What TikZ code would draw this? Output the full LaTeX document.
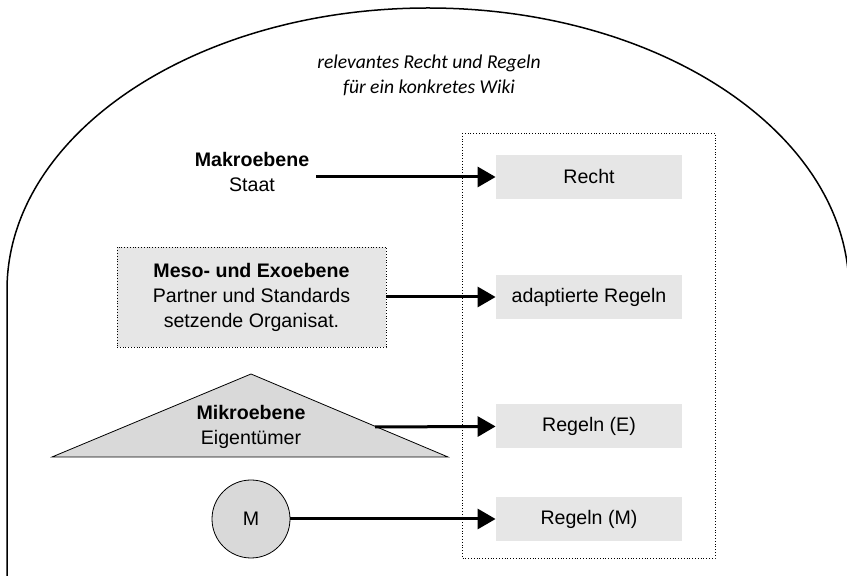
\documentclass[tikz,border=0pt]{standalone}
\usepackage{fontspec}
\setmainfont{Liberation Sans}
\newfontfamily\carlito{Carlito}
\usetikzlibrary{arrows.meta}
\definecolor{boxgray}{HTML}{E6E6E6}
\definecolor{shapegray}{HTML}{D9D9D9}
\tikzstyle{rulebox} = [rectangle, minimum width=93pt, minimum height=22pt, inner sep=0pt, text centered, fill=boxgray]
\tikzstyle{levelbox} = [rectangle, minimum width=134.5pt, minimum height=50pt, align=center, draw=black, densely dotted, fill=boxgray]
\tikzstyle{actor} = [circle, minimum size=39pt, draw=black, fill=shapegray]
\tikzstyle{arrow} = [line width=1.5pt, -{Triangle[length=9pt, width=10pt]}]

\begin{document}
\begin{tikzpicture}[x=0.5pt, y=-0.5pt, font=\fontsize{9.8}{12.5}\selectfont]
\useasboundingbox (0,0) rectangle (847,576);

% Rahmen: Wiki
\draw [line width=0.75pt] (7,576) -- (7,290) arc[start angle=180, end angle=360, x radius=421, y radius=282] -- (849,576);
\node (title) [align=center, font=\carlito\itshape\fontsize{9.8}{12.5}\selectfont] at (429,75.5) {relevantes Recht und Regeln\\für ein konkretes Wiki};

% Regeln
\draw [densely dotted] (462,133) rectangle (715,558);
\node (recht) [rulebox] at (589,177) {Recht};
\node (adapt) [rulebox] at (589,297) {adaptierte Regeln};
\node (regE) [rulebox] at (589,426) {Regeln (E)};
\node (regM) [rulebox] at (589,519) {Regeln (M)};

% Ebenen
\node (makro) [align=center] at (252,172) {\textbf{Makroebene}\\Staat};
\node (meso) [levelbox] at (251.5,297) {\textbf{Meso- und Exoebene}\\Partner und Standards\\setzende Organisat.};
\filldraw [draw=black, fill=shapegray] (52,457) -- (251,374) -- (448,457) -- cycle;
\node (mikro) [align=center] at (251,427) {\textbf{Mikroebene}\\Eigentümer};
\coordinate (mikroOut) at (375,427);
\node (M) [actor] at (251,519) {M};

\draw [arrow] (makro.east |- recht) -- (recht);
\draw [arrow] (meso.east |- adapt) -- (adapt);
\draw [arrow] (mikroOut) -- (regE);
\draw [arrow] (M) -- (regM);

\end{tikzpicture}
\end{document}
